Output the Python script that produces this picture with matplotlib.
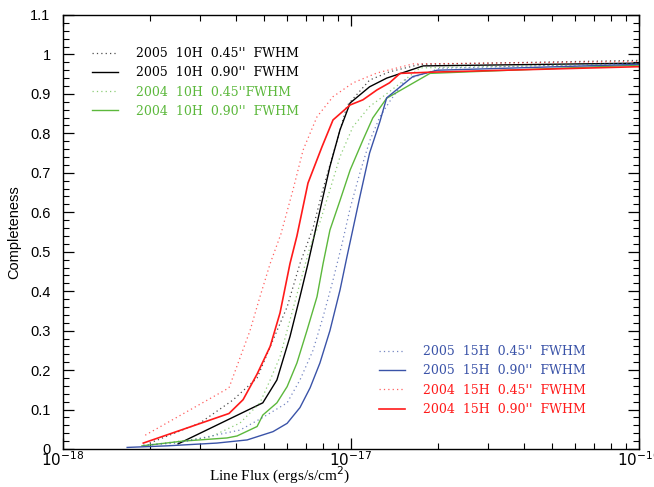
import numpy as np
import matplotlib.pyplot as plt
from matplotlib.ticker import FixedLocator, MultipleLocator, LogLocator, NullFormatter

# flux values (ergs/s/cm^2) and completeness
flux_05_10_045 = [2.0e-18, 2.99e-18, 3.89e-18, 4.72e-18, 5.36e-18, 6.0e-18, 6.65e-18, 7.38e-18,
                  8.0e-18, 8.93e-18, 9.68e-18, 1.16e-17, 1.36e-17, 1.74e-17, 1e-16]
comp_05_10_045 = [0.015, 0.066, 0.124, 0.18, 0.276, 0.36, 0.47, 0.56,
                  0.66, 0.78, 0.87, 0.935, 0.956, 0.975, 0.985]

flux_05_10_090 = [2.51e-18, 4.94e-18, 5.53e-18, 6.14e-18, 6.65e-18, 7.09e-18, 7.45e-18, 8.0e-18,
                  8.45e-18, 9.16e-18, 9.93e-18, 1.16e-17, 1.33e-17, 1.78e-17, 1e-16]
comp_05_10_090 = [0.013, 0.117, 0.175, 0.285, 0.386, 0.47, 0.54, 0.64,
                  0.716, 0.809, 0.877, 0.918, 0.94, 0.971, 0.978]

flux_04_10_045 = [1.9e-18, 3.24e-18, 4.12e-18, 4.83e-18, 5.24e-18, 5.67e-18, 6.14e-18, 6.65e-18,
                  7.21e-18, 7.8e-18, 8.45e-18, 9.16e-18, 1.016e-17, 1.16e-17, 1.29e-17, 1.74e-17, 1e-16]
comp_04_10_045 = [0.008, 0.03, 0.066, 0.117, 0.175, 0.234, 0.327, 0.42,
                  0.513, 0.575, 0.657, 0.741, 0.817, 0.868, 0.893, 0.966, 0.976]

flux_04_10_090 = [1.88e-18, 2.61e-18, 3.71e-18, 4.02e-18, 4.72e-18, 4.94e-18, 5.53e-18, 6.0e-18,
                  6.49e-18, 7.03e-18, 7.62e-18, 8.0e-18, 8.45e-18, 9.16e-18, 9.93e-18, 1.1e-17,
                  1.19e-17, 1.33e-17, 1.88e-17, 1e-16]
comp_04_10_090 = [0.008, 0.02, 0.028, 0.033, 0.057, 0.086, 0.117, 0.158,
                  0.218, 0.30, 0.386, 0.47, 0.555, 0.63, 0.707, 0.783,
                  0.839, 0.889, 0.952, 0.973]

flux_05_15_045 = [1.9e-18, 2.49e-18, 4.12e-18, 4.94e-18, 6.0e-18, 6.65e-18, 7.38e-18, 8.0e-18,
                  8.66e-18, 9.31e-18, 9.93e-18, 1.074e-17, 1.16e-17, 1.26e-17, 1.36e-17, 1.54e-17,
                  2.04e-17, 1e-16]
comp_05_15_045 = [0.01, 0.015, 0.048, 0.08, 0.117, 0.175, 0.25, 0.335,
                  0.428, 0.52, 0.61, 0.70, 0.78, 0.842, 0.88, 0.935,
                  0.965, 0.978]

flux_05_15_090 = [1.67e-18, 2.3e-18, 3.42e-18, 4.36e-18, 5.36e-18, 6.0e-18, 6.65e-18, 7.21e-18,
                  7.8e-18, 8.45e-18, 9.16e-18, 9.68e-18, 1.007e-17, 1.074e-17, 1.16e-17, 1.26e-17,
                  1.33e-17, 1.64e-17, 1.99e-17, 1e-16]
comp_05_15_090 = [0.004, 0.008, 0.015, 0.023, 0.044, 0.065, 0.105, 0.155,
                  0.218, 0.30, 0.403, 0.487, 0.545, 0.64, 0.75, 0.83,
                  0.89, 0.944, 0.96, 0.975]

flux_04_15_045 = [1.93e-18, 3.77e-18, 4.46e-18, 4.83e-18, 5.24e-18, 5.71e-18, 6.29e-18, 6.82e-18,
                  7.62e-18, 8.66e-18, 1.016e-17, 1.23e-17, 1.36e-17, 1.64e-17, 1e-16]
comp_04_15_045 = [0.035, 0.155, 0.30, 0.386, 0.47, 0.545, 0.657, 0.758,
                  0.842, 0.893, 0.928, 0.953, 0.961, 0.976, 0.982]

flux_04_15_090 = [1.9e-18, 3.77e-18, 4.22e-18, 4.72e-18, 5.24e-18, 5.67e-18, 6.14e-18, 6.49e-18,
                  7.09e-18, 7.93e-18, 8.66e-18, 9.93e-18, 1.1e-17, 1.23e-17, 1.36e-17, 1.48e-17,
                  1.88e-17, 1e-16]
comp_04_15_090 = [0.015, 0.09, 0.125, 0.19, 0.26, 0.345, 0.47, 0.54,
                  0.674, 0.766, 0.834, 0.872, 0.885, 0.91, 0.928, 0.952,
                  0.955, 0.969]

black = 'black'
green = '#5cb83c'
blue = '#3a53a8'
red = '#ff1a1a'
dot = (0, (1, 2.5))

fig = plt.figure(figsize=(6.54, 4.87), dpi=100)
ax = fig.add_axes([63 / 654, 1 - 449 / 487, 576 / 654, 434 / 487])

l1, = ax.plot(flux_05_10_045, comp_05_10_045, color=black, ls=dot, lw=0.9, alpha=0.7)
l2, = ax.plot(flux_05_10_090, comp_05_10_090, color=black, lw=1.0)
l3, = ax.plot(flux_04_10_045, comp_04_10_045, color=green, ls=dot, lw=0.9, alpha=0.7)
l4, = ax.plot(flux_04_10_090, comp_04_10_090, color=green, lw=1.0)
l5, = ax.plot(flux_05_15_045, comp_05_15_045, color=blue, ls=dot, lw=0.9, alpha=0.7)
l6, = ax.plot(flux_05_15_090, comp_05_15_090, color=blue, lw=1.0)
l7, = ax.plot(flux_04_15_045, comp_04_15_045, color=red, ls=dot, lw=0.9, alpha=0.7)
l8, = ax.plot(flux_04_15_090, comp_04_15_090, color=red, lw=1.2)

ax.set_xscale('log')
ax.set_xlim(1e-18, 1e-16)
ax.set_ylim(0, 1.1)

yt = [0, 0.1, 0.2, 0.3, 0.4, 0.5, 0.6, 0.7, 0.8, 0.9, 1.0, 1.1]
ax.yaxis.set_major_locator(FixedLocator(yt))
ax.set_yticklabels(['0', '0.1', '0.2', '0.3', '0.4', '0.5', '0.6', '0.7', '0.8', '0.9', '1', '1.1'],
                   family='Liberation Sans', fontsize=10.5)
ax.yaxis.set_minor_locator(MultipleLocator(0.02))
ax.xaxis.set_major_locator(FixedLocator([1e-18, 1e-17, 1e-16]))
ax.set_xticklabels([r'$10^{-18}$', r'$10^{-17}$', r'$10^{-16}$'], fontsize=11)
ax.xaxis.set_minor_locator(LogLocator(base=10, subs=np.arange(2, 10)))
ax.xaxis.set_minor_formatter(NullFormatter())
ax.tick_params(which='both', direction='in', top=True, right=True)
ax.tick_params(which='major', length=8, width=0.9)
ax.tick_params(axis='x', which='major', pad=1)
ax.tick_params(axis='y', which='major', pad=9)
ax.tick_params(which='minor', length=4, width=0.8)
for s in ax.spines.values():
    s.set_linewidth(1.0)

ax.set_ylabel('Completeness', fontsize=10.5, family='Liberation Sans')
ax.yaxis.set_label_coords(-0.073, 0.5)
ax.set_xlabel(r'Line Flux (ergs/s/cm$^2$)', fontsize=11, family='Liberation Serif')
ax.xaxis.set_label_coords((279 - 63) / 576, -0.062)
ax.xaxis.label.set_verticalalignment('center')

lfont = {'family': 'DejaVu Serif', 'size': 9}
leg1 = ax.legend([l1, l2, l3, l4],
                 ["2005  10H  0.45''  FWHM", "2005  10H  0.90''  FWHM",
                  "2004  10H  0.45''FWHM", "2004  10H  0.90''  FWHM"],
                 loc='upper left', bbox_to_anchor=(0.031, 0.952), frameon=False, prop=lfont,
                 labelcolor=[black, black, green, green], handlelength=2.1, handletextpad=1.4,
                 labelspacing=0.5)
ax.add_artist(leg1)
ax.legend([l5, l6, l7, l8],
          ["2005  15H  0.45''  FWHM", "2005  15H  0.90''  FWHM",
           "2004  15H  0.45''  FWHM", "2004  15H  0.90''  FWHM"],
          loc='upper left', bbox_to_anchor=(0.529, 0.265), frameon=False, prop=lfont,
          labelcolor=[blue, blue, red, red], handlelength=2.1, handletextpad=1.4,
          labelspacing=0.5)

fig.savefig('out.png', dpi=100)
